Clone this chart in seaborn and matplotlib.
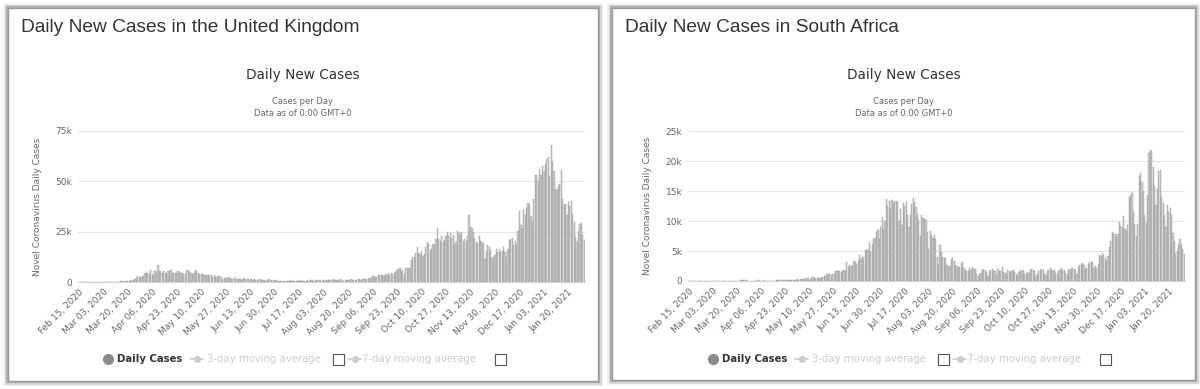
import numpy as np
import pandas as pd
import matplotlib
matplotlib.use('Agg')
import matplotlib.pyplot as plt
import seaborn as sns
from matplotlib.patches import Rectangle
from matplotlib.lines import Line2D

# daily new cases, Feb 15 2020 .. Feb 01 2021
uk_feb = [0, 0, 0, 0, 0, 0, 0, 0, 4, 0, 0, 2, 2, 5, 3]
uk_mar = [13, 4, 11, 34, 30, 48, 43, 67, 46, 50, 83, 134, 117, 208, 342, 251, 152, 407, 676, 643,
          714, 1035, 665, 967, 1427, 2129, 2885, 2546, 2433, 2619, 3009]
uk_apr = [4324, 4244, 4450, 3735, 5903, 3802, 3634, 5491, 4344, 8681, 5233, 5288, 4342, 5252, 4603,
          4617, 5599, 5525, 5850, 4676, 4301, 4451, 4583, 5386, 4913, 4463, 4309, 3996, 4076, 6032]
uk_may = [6201, 4806, 4339, 3985, 4406, 6111, 5614, 4649, 3896, 3923, 3877, 3403, 3242, 3446, 3560,
          3450, 3534, 2684, 3412, 2472, 2615, 2959, 2940, 2409, 1625, 2004, 2013, 2095, 2614, 1936, 1570]
uk_jun = [1653, 1871, 1805, 1650, 1557, 1326, 1205, 1541, 1741, 1003, 1266, 1541, 1425, 1514, 1056,
          1279, 1115, 1218, 1346, 1295, 1221, 958, 874, 653, 1118, 1380, 890, 1006, 815, 689]
uk_jul = [829, 576, 544, 624, 516, 352, 581, 630, 512, 642, 820, 650, 530, 650, 538, 463, 687, 827,
          650, 580, 560, 445, 769, 560, 767, 747, 685, 581, 763, 846, 880]
uk_aug = [771, 744, 938, 670, 950, 892, 871, 758, 1062, 1441, 1148, 1009, 1063, 1012, 1441, 1040, 713,
          1089, 812, 1182, 1033, 1288, 1041, 853, 1048, 1184, 1276, 1522, 1108, 1715, 1406]
uk_sep = [1295, 1508, 1735, 1940, 1813, 2988, 2948, 2460, 2659, 3539, 3497, 3330, 3497, 3105, 3991,
          3395, 4322, 3679, 4422, 3899, 4368, 4926, 6178, 6634, 6874, 6042, 5693, 4044, 7143, 7108]
uk_oct = [6914, 6968, 11000, 12500, 12594, 14542, 17540, 14162, 13864, 15166, 12872, 13972, 17234,
          19724, 18980, 15650, 16171, 18804, 18250, 21331, 26688, 21242, 20530, 23012, 19790, 20890,
          22885, 24701, 23065, 24405, 21915]
uk_nov = [23254, 18950, 20018, 25177, 24141, 23287, 24957, 20572, 21350, 20412, 22950, 33470, 27301,
          26860, 24962, 21363, 20051, 19609, 22915, 20252, 19875, 18662, 11299, 15450, 18213, 17555,
          16022, 12155, 12330, 13430]
uk_dec = [16170, 14879, 16298, 14750, 15539, 17272, 14718, 12282, 16578, 20964, 21502, 21672, 18447,
          20263, 18450, 25161, 35383, 28507, 27052, 35928, 33364, 36804, 39237, 38846, 32725, 30501,
          41385, 53135, 53135, 50023, 55892]
uk_jan = [53285, 57725, 54990, 58784, 60916, 62322, 52618, 68053, 59937, 54940, 46169, 45533, 47525,
          48682, 55761, 41346, 38598, 38905, 33355, 39716, 37892, 40261, 33552, 30004, 22195, 20089,
          25308, 28680, 29079, 23275, 21088]

sa_feb = [0] * 15
sa_mar = [0, 0, 0, 0, 1, 0, 1, 0, 5, 6, 3, 4, 11, 13, 24, 11, 34, 31, 60, 38, 36, 34, 128, 148, 155,
          218, 243, 0, 74, 46, 82]
sa_apr = [73, 82, 42, 102, 87, 63, 48, 99, 43, 70, 68, 56, 42, 62, 47, 29, 93, 130, 116, 54, 129,
          102, 128, 196, 158, 141, 168, 184, 150, 218]
sa_may = [250, 263, 223, 279, 281, 356, 391, 429, 450, 495, 385, 455, 606, 567, 481, 502, 467, 478,
          453, 618, 775, 863, 1197, 1137, 1169, 1054, 1126, 1140, 1621, 1716, 1738]
sa_jun = [1604, 1540, 1634, 1751, 1671, 3147, 2312, 2594, 2430, 2430, 3367, 3147, 2802, 3265, 4302,
          3630, 4078, 3928, 5097, 5124, 5086, 6400, 4792, 6170, 6985, 7200, 8100, 8500, 7000, 9000]
sa_jul = [10600, 8700, 10000, 13600, 12500, 13300, 12000, 13500, 13000, 13300, 13400, 13200, 10000,
          12000, 9300, 13000, 12500, 13200, 11000, 9000, 11000, 12800, 13800, 13100, 12400, 11100,
          10100, 7500, 11000, 10500, 10300]
sa_aug = [10100, 8200, 5400, 8300, 7700, 7200, 7600, 7000, 4000, 2700, 6000, 4800, 4000, 3800, 3900,
          2600, 2300, 2500, 3600, 3800, 3400, 2700, 2500, 2300, 2400, 3000, 3100, 2200, 1900, 1700, 1600]
sa_sep = [2200, 1900, 2400, 2000, 2000, 1200, 900, 1100, 1400, 2000, 1800, 1900, 1500, 800, 1600,
          1900, 2000, 1700, 1600, 1000, 2000, 1700, 1600, 2400, 1500, 1400, 1200, 1800, 1700, 1500]
sa_oct = [1700, 1800, 1500, 1100, 900, 1500, 1900, 1600, 1800, 1100, 1200, 1500, 1400, 1900, 2000,
          1800, 1700, 900, 1200, 1600, 1900, 2000, 1800, 1200, 1000, 1700, 1800, 2100, 1900, 1700, 1800]
sa_nov = [1300, 1100, 1600, 1900, 2100, 1900, 1800, 1300, 1200, 2000, 1800, 2100, 2200, 2000, 1900,
          1100, 2300, 2700, 2900, 3000, 2700, 2000, 2200, 2800, 3100, 3200, 3100, 2200, 2500, 2200]
sa_dec = [2800, 4400, 4100, 4600, 4400, 3800, 3300, 4200, 5700, 6700, 8100, 7900, 7800, 7300, 7800,
          9800, 9100, 9000, 10900, 8700, 8400, 9400, 14000, 14200, 14700, 11500, 9500, 7500, 9500,
          17500, 18000]
sa_jan = [16500, 15000, 11000, 9600, 14300, 21400, 21800, 21600, 19000, 15800, 12600, 15400, 18400,
          18500, 14000, 13000, 11000, 9000, 12600, 11500, 12200, 11000, 8000, 6700, 4500, 5000, 6000,
          7000, 6000, 5300, 4500]

uk_ticks = [0, 25000, 50000, 75000]
uk_tick_labels = ['0', '25k', '50k', '75k']
sa_ticks = [0, 5000, 10000, 15000, 20000, 25000]
sa_tick_labels = ['0', '5k', '10k', '15k', '20k', '25k']

uk_cases = uk_feb + uk_mar + uk_apr + uk_may + uk_jun + uk_jul + uk_aug + uk_sep + uk_oct + uk_nov + uk_dec + uk_jan
sa_cases = sa_feb + sa_mar + sa_apr + sa_may + sa_jun + sa_jul + sa_aug + sa_sep + sa_oct + sa_nov + sa_dec + sa_jan
dates = pd.date_range('2020-02-15', periods=len(uk_cases))

sns.set_theme(style='white')
plt.rcParams['font.family'] = ['DejaVu Sans']

W, H = 1200, 389
fig = plt.figure(figsize=(W / 100, H / 100), dpi=100)


def fx(px):
    return px / W


def fy(py):
    return 1 - py / H


def draw_card(x0, y0, x1, y1):
    # soft grey shadow then the white card, kept behind the axes
    for lw, a in [(7, 0.06), (5, 0.10), (3, 0.18)]:
        fig.add_artist(Rectangle((fx(x0), fy(y1)), fx(x1 - x0), (y1 - y0) / H, transform=fig.transFigure,
                                 facecolor='none', edgecolor='black', lw=lw, alpha=a, zorder=-10))
    fig.add_artist(Rectangle((fx(x0), fy(y1)), fx(x1 - x0), (y1 - y0) / H, transform=fig.transFigure,
                             facecolor='white', edgecolor='#9a9a9a', lw=1.0, zorder=-9))


def draw_legend(dx):
    y = fy(359)
    fig.add_artist(Line2D([fx(108 + dx)], [y], transform=fig.transFigure, marker='o', ms=7,
                          color='#8a8a8a', lw=0))
    fig.text(fx(117 + dx), y, 'Daily Cases', fontsize=7.3, fontweight='bold', color='#333333', va='center')
    for sx, tx, cx, label in [(190, 207, 333, '3-day moving average'), (348, 362, 495, '7-day moving average')]:
        fig.add_artist(Line2D([fx(sx + dx), fx(sx + dx + 13)], [y, y], transform=fig.transFigure,
                              color='#cccccc', lw=1.2))
        fig.add_artist(Line2D([fx(sx + dx + 6.5)], [y], transform=fig.transFigure, marker='o', ms=4,
                              color='#cccccc', lw=0))
        fig.text(fx(tx + dx), y, label, fontsize=7.3, color='#cccccc', va='center')
        fig.add_artist(Rectangle((fx(cx + dx), fy(365)), fx(11), 11 / H, transform=fig.transFigure,
                                 facecolor='white', edgecolor='#555555', lw=0.8))


def draw_panel(cases, card, ax_px, title, ticks, tick_labels):
    x0, y0, x1, y1 = card
    draw_card(x0, y0, x1, y1)
    cx = (x0 + x1) / 2
    fig.text(fx(x0 + 13), fy(28), title, fontsize=13.8, family=['Liberation Sans', 'DejaVu Sans'],
             color='#333333', va='center')
    fig.text(fx(cx), fy(75), 'Daily New Cases', fontsize=9.8, color='#333333', ha='center', va='center')
    fig.text(fx(cx), fy(101), 'Cases per Day', fontsize=6, color='#666666', ha='center', va='center')
    fig.text(fx(cx), fy(113), 'Data as of 0:00 GMT+0', fontsize=6, color='#666666', ha='center', va='center')

    left, top, right, bottom = ax_px
    ax = fig.add_axes([fx(left), fy(bottom), fx(right - left), (bottom - top) / H])
    df = pd.DataFrame({'day': np.arange(len(cases)), 'cases': cases})
    sns.barplot(data=df, x='day', y='cases', color='#cdcdcd', saturation=1, width=0.85,
                edgecolor='#8c8c8c', linewidth=0.25, ax=ax)
    ax.set_xlim(-0.5, len(cases) - 0.5)
    ax.set_ylim(0, ticks[-1])
    ax.set_yticks(ticks)
    ax.set_yticklabels(tick_labels, fontsize=6.5, color='#666666')
    pos = list(range(0, len(cases), 17))
    ax.set_xticks(pos)
    ax.set_xticklabels([dates[p].strftime('%b %d, %Y') for p in pos], fontsize=6.5, color='#666666',
                       rotation=45, ha='right', rotation_mode='anchor')
    ax.tick_params(axis='both', length=0, pad=4)
    ax.grid(axis='y', color='#e6e6e6', lw=0.8)
    ax.set_axisbelow(True)
    for s in ['top', 'right', 'left']:
        ax.spines[s].set_visible(False)
    ax.spines['bottom'].set_color('#ccd6eb')
    ax.spines['bottom'].set_linewidth(0.8)
    ax.set_xlabel('')
    ax.set_ylabel('')
    ax.patch.set_alpha(0)
    fig.text(fx(left - 40), fy((top + bottom) / 2), 'Novel Coronavirus Daily Cases', fontsize=6.5,
             color='#666666', rotation=90, ha='center', va='center')
    return ax


draw_panel(uk_cases, (8, 8, 598, 381), (78, 131, 585, 282), 'Daily New Cases in the United Kingdom',
           uk_ticks, uk_tick_labels)
draw_legend(0)
draw_panel(sa_cases, (612, 8, 1195, 380), (688, 131, 1185, 281), 'Daily New Cases in South Africa',
           sa_ticks, sa_tick_labels)
draw_legend(605)

fig.savefig('out.png', dpi=100, facecolor='white')
